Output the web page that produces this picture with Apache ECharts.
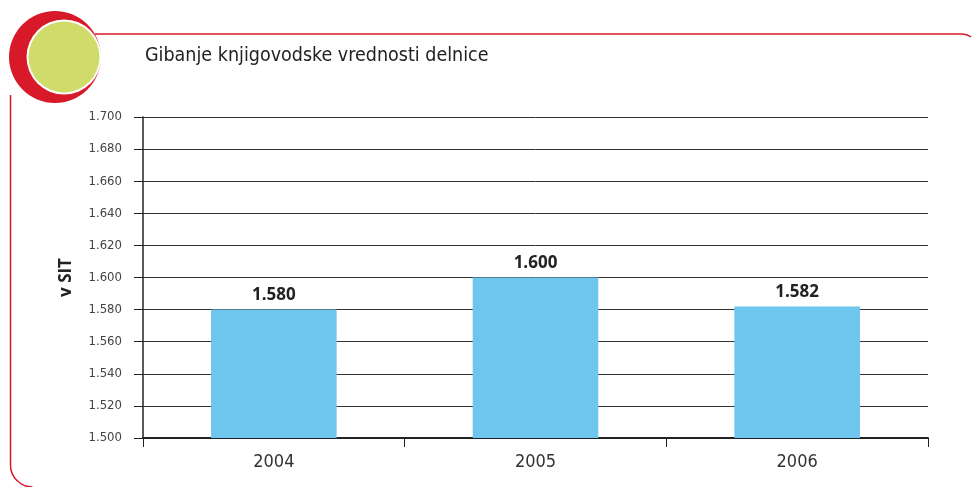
<!DOCTYPE html>
<html>
<head>
<meta charset="utf-8">
<script src="https://cdn.jsdelivr.net/npm/echarts@6/dist/echarts.min.js"></script>
<style>
  html, body { margin: 0; padding: 0; background: #fff; }
  #chart { width: 978px; height: 487px; }
</style>
</head>
<body>
<div id="chart"></div>
<script>
var years = ['2004', '2005', '2006'];
var values = [1580, 1600, 1582];
var yMin = 1500, yMax = 1700, yStep = 20;

// 1580 -> "1.580"
function fmt(v) {
  var s = String(Math.round(v) % 1000);
  while (s.length < 3) s = '0' + s;
  return Math.floor(v / 1000) + '.' + s;
}

var red = '#d7192a';
var narrow = '"DejaVu Sans Condensed", "Liberation Sans Narrow", sans-serif';
var chart = echarts.init(document.getElementById('chart'));
chart.setOption({
  animation: false,
  textStyle: { fontFamily: narrow },
  graphic: [
    // red frame
    { type: 'polyline', silent: true, shape: { points: [[95, 34], [962, 34]] }, style: { stroke: red, lineWidth: 1.5, fill: null } },
    { type: 'arc', silent: true, shape: { cx: 962, cy: 50, r: 16, startAngle: -Math.PI / 2, endAngle: -Math.PI / 2 + 0.6 }, style: { stroke: red, lineWidth: 1.5, fill: null } },
    { type: 'polyline', silent: true, shape: { points: [[10.5, 95], [10.5, 465]] }, style: { stroke: red, lineWidth: 1.5, fill: null } },
    { type: 'arc', silent: true, shape: { cx: 32.5, cy: 465, r: 22, startAngle: Math.PI / 2, endAngle: Math.PI, clockwise: true }, style: { stroke: red, lineWidth: 1.5, fill: null } },
    // badge
    { type: 'circle', silent: true, shape: { cx: 55, cy: 57, r: 46 }, style: { fill: red } },
    { type: 'circle', silent: true, shape: { cx: 64, cy: 57, r: 37.5 }, style: { fill: '#fff' } },
    { type: 'circle', silent: true, shape: { cx: 64, cy: 57, r: 35.5 }, style: { fill: '#cfdc6a' } },
    {
      type: 'text', left: 145, top: 46, silent: true,
      style: { text: 'Gibanje knjigovodske vrednosti delnice', fill: '#222', fontSize: 19.5, fontFamily: narrow }
    }
  ],
  grid: { left: 143, right: 50, top: 117, bottom: 49 },
  xAxis: {
    type: 'category',
    data: years,
    axisLine: { lineStyle: { color: '#222', width: 2 } },
    axisTick: { show: true, length: 9, lineStyle: { color: '#222' } },
    axisLabel: { color: '#333', fontSize: 18, margin: 15 }
  },
  yAxis: {
    type: 'value',
    min: yMin,
    max: yMax,
    interval: yStep,
    name: 'v SIT',
    nameLocation: 'middle',
    nameGap: 68,
    nameTextStyle: { color: '#222', fontSize: 17, fontWeight: 'bold', fontFamily: '"Open Sans", sans-serif' },
    axisLine: { show: true, lineStyle: { color: '#222', width: 1.5 } },
    axisTick: { show: true, length: 9, lineStyle: { color: '#222' } },
    axisLabel: { color: '#444', fontSize: 13, margin: 21, formatter: fmt },
    splitLine: { lineStyle: { color: '#333', width: 1 } }
  },
  series: [{
    type: 'bar',
    data: values,
    barWidth: '48%',
    itemStyle: { color: '#6ec6ee' },
    label: {
      show: true,
      position: 'top',
      distance: 6,
      color: '#222',
      fontSize: 17,
      fontWeight: 'bold',
      fontFamily: '"Open Sans", sans-serif',
      formatter: function (p) { return fmt(p.value); }
    }
  }]
});
</script>
</body>
</html>
